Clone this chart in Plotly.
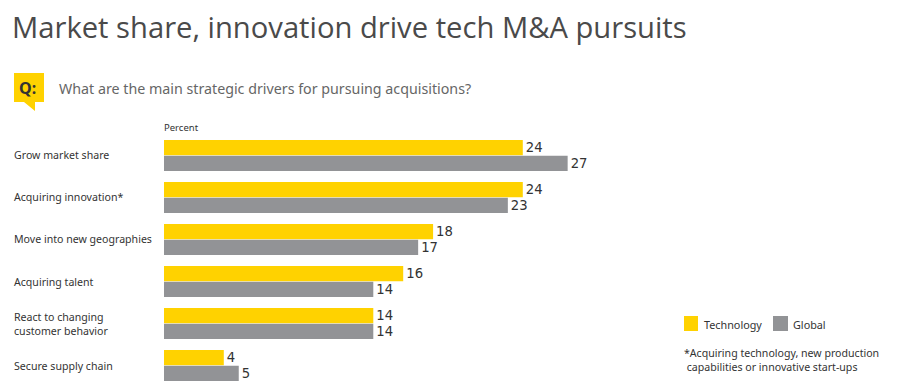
import plotly.graph_objects as go

title = "Market share, innovation drive tech M&A pursuits"
question = "What are the main strategic drivers for pursuing acquisitions?"
footnote = "*Acquiring technology, new production<br> capabilities or innovative start-ups"
categories = ["Grow market share", "Acquiring innovation*", "Move into new geographies",
              "Acquiring talent", "React to changing<br>customer behavior", "Secure supply chain"]
technology = [24, 24, 18, 16, 14, 4]
global_share = [27, 23, 17, 14, 14, 5]
YEL, GRY = "#FFD200", "#929396"
LAB = "Noto Sans"

fig = go.Figure()
for name, vals, col in [("Technology", technology, YEL), ("Global", global_share, GRY)]:
    fig.add_bar(y=categories, x=vals, name=name, orientation="h", marker=dict(color=col, line_width=0),
                text=vals, textposition="outside", textangle=0, cliponaxis=False,
                textfont=dict(family="DejaVu Sans", size=14, color="#333333"))

W, H = 900, 392
def px(x): return x / W
def py(y): return 1 - y / H
ann = []
def text(x, y, s, size, color="#333333", family=LAB, **kw):
    ann.append(dict(x=px(x), y=py(y), xref="paper", yref="paper", text=s, showarrow=False,
                    xanchor="left", yanchor="middle", align="left", xshift=-2,
                    font=dict(family=family, size=size, color=color), **kw))

fig.update_layout(
    width=W, height=H, autosize=False, showlegend=False,
    paper_bgcolor="white", plot_bgcolor="white",
    margin=dict(l=0, r=0, t=0, b=0, pad=0),
    barmode="group", bargap=0.25, bargroupgap=0.04,
    xaxis=dict(domain=[164 / W, 762 / W], range=[0, 40], visible=False),
    yaxis=dict(domain=[1 - 386.5 / H, 1 - 134.5 / H], autorange="reversed", type="category",
               showticklabels=False, showgrid=False, zeroline=False, showline=False, ticks=""),
)
for c in categories:
    ann.append(dict(x=px(12), xref="paper", y=c, yref="y", text=c, showarrow=False, xanchor="left",
                    yanchor="middle", align="left", font=dict(family=LAB, size=10.6, color="#333333")))
text(12, 27, title, 29.2, color="#4a4a4a", family="Open Sans")
text(59, 88, question, 14.25, color="#666666")
text(164, 128, "Percent", 9.5)
text(704, 324, "Technology", 10.8)
text(793, 324, "Global", 10.8)
text(684, 360, footnote, 10.6)
text(19, 88, "<b>Q:</b>", 16, color="#333333")
fig.update_layout(annotations=ann)

def rect(x0, y0, x1, y1, col):
    return dict(type="rect", xref="paper", yref="paper", x0=px(x0), x1=px(x1), y0=py(y0), y1=py(y1),
                fillcolor=col, line_width=0, layer="below")
shapes = [rect(684, 316, 698, 331, YEL), rect(773, 316, 788, 331, GRY)]
badge = [(14, 73), (44, 73), (44, 102), (35, 102), (35, 111), (24, 102), (14, 102)]
shapes.append(dict(type="path", xref="paper", yref="paper", layer="below", fillcolor=YEL, line_width=0,
                   path="M" + " L".join(f"{px(a):.5f},{py(b):.5f}" for a, b in badge) + " Z"))
fig.update_layout(shapes=shapes)
fig.write_html("out.html", config={"displayModeBar": False}, post_script="document.body.style.margin='0';")
